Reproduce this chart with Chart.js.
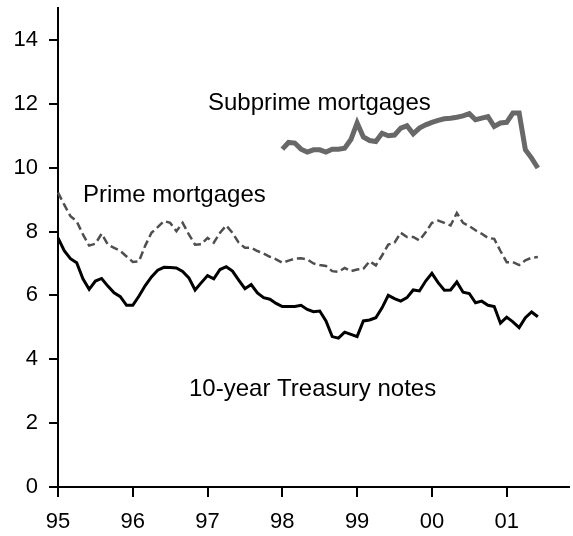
<!DOCTYPE html>
<html>
<head>
<meta charset="utf-8">
<script src="https://cdn.jsdelivr.net/npm/chart.js@4/dist/chart.umd.min.js"></script>
<style>
  body { margin: 0; background: #fff; }
  canvas { display: block; }
</style>
</head>
<body>
<canvas id="rates" width="573" height="536"></canvas>
<script>
// year tick labels, one per January
var years = ["95", "96", "97", "98", "99", "00", "01"];

// monthly, Jan 1995 .. Jun 2001 (percent)
var treasury = [
  7.80, 7.40, 7.15, 7.02, 6.52, 6.19, 6.45, 6.53, 6.29, 6.08, 5.96, 5.69,
  5.69, 5.98, 6.31, 6.58, 6.79, 6.88, 6.87, 6.86, 6.75, 6.55, 6.17, 6.40,
  6.62, 6.52, 6.81, 6.90, 6.76, 6.48, 6.21, 6.34, 6.08, 5.93, 5.88, 5.75,
  5.65, 5.65, 5.65, 5.69, 5.56, 5.49, 5.51, 5.20, 4.71, 4.66, 4.85, 4.78,
  4.71, 5.20, 5.23, 5.30, 5.61, 6.00, 5.90, 5.82, 5.93, 6.17, 6.14, 6.45,
  6.69, 6.40, 6.16, 6.17, 6.42, 6.10, 6.06, 5.77, 5.82, 5.69, 5.65, 5.13,
  5.32, 5.17, 4.99, 5.30, 5.48, 5.33
];

var prime = [
  9.22, 8.84, 8.48, 8.32, 7.91, 7.56, 7.62, 7.93, 7.59, 7.49, 7.39, 7.22,
  7.05, 7.07, 7.56, 7.96, 8.14, 8.33, 8.27, 8.01, 8.27, 7.91, 7.59, 7.60,
  7.80, 7.65, 7.96, 8.19, 7.96, 7.65, 7.49, 7.49, 7.39, 7.31, 7.21, 7.13,
  7.02, 7.09, 7.15, 7.16, 7.13, 7.00, 6.95, 6.92, 6.76, 6.74, 6.86, 6.76,
  6.81, 6.83, 7.07, 6.94, 7.25, 7.59, 7.65, 7.96, 7.83, 7.83, 7.72, 7.98,
  8.27, 8.34, 8.27, 8.19, 8.58, 8.27, 8.17, 8.04, 7.93, 7.80, 7.77, 7.39,
  7.04, 7.04, 6.95, 7.10, 7.18, 7.20
];

// monthly, Jan 1998 .. Jun 2001
var subprime = [
  10.58, 10.79, 10.77, 10.58, 10.49, 10.56, 10.56, 10.49, 10.58, 10.58, 10.61, 10.88,
  11.40, 10.96, 10.85, 10.82, 11.08, 11.00, 11.02, 11.24, 11.31, 11.06, 11.24, 11.34,
  11.42, 11.48, 11.53, 11.55, 11.58, 11.62, 11.69, 11.50, 11.55, 11.60, 11.29, 11.40,
  11.42, 11.71, 11.71, 10.56, 10.30, 9.99
];

// month labels Jan 95 .. Nov 01, year shown on January only
var months = [];
for (var y = 0; y < years.length; y++) {
  for (var m = 0; m < 12; m++) {
    if (y == years.length - 1 && m > 10) break;
    months.push(m == 0 ? years[y] : "");
  }
}

var subStart = 36; // Jan 98
var subData = [];
for (var i = 0; i < subStart; i++) subData.push(null);
subData = subData.concat(subprime);

var seriesLabels = {
  id: "seriesLabels",
  afterDatasetsDraw: function(chart) {
    var ctx = chart.ctx;
    ctx.save();
    ctx.font = '24px "Liberation Sans", Arial, sans-serif';
    ctx.fillStyle = "#000";
    ctx.textBaseline = "alphabetic";
    ctx.fillText("Subprime mortgages", 208, 110);
    ctx.fillText("Prime mortgages", 83, 202);
    ctx.fillText("10-year Treasury notes", 189, 396);
    ctx.restore();
  }
};

var tickFont = { family: '"Liberation Sans", Arial, sans-serif', size: 22 };

new Chart("rates", {
  type: "line",
  data: {
    labels: months,
    datasets: [{
      label: "Subprime mortgages",
      data: subData,
      borderColor: "#686868",
      borderWidth: 5,
      pointRadius: 0,
      tension: 0
    }, {
      label: "Prime mortgages",
      data: prime,
      borderColor: "#4f4f4f",
      borderWidth: 2.5,
      borderDash: [8, 4],
      pointRadius: 0,
      tension: 0
    }, {
      label: "10-year Treasury notes",
      data: treasury,
      borderColor: "#000",
      borderWidth: 3,
      pointRadius: 0,
      tension: 0
    }]
  },
  options: {
    responsive: false,
    animation: false,
    layout: { padding: { top: 8, right: 4, left: 0, bottom: 0 } },
    plugins: {
      legend: { display: false },
      tooltip: { enabled: false }
    },
    scales: {
      x: {
        type: "category",
        grid: { drawOnChartArea: false, color: "#000", lineWidth: 2, tickLength: 10 },
        border: { color: "#000", width: 2 },
        ticks: {
          autoSkip: false,
          maxRotation: 0,
          color: "#000",
          font: tickFont,
          padding: 12,
          callback: function(v, i) {
            var l = months[i];
            return l ? l : null;
          }
        },
        afterFit: function(s) { s.height = 49; }
      },
      y: {
        min: 0,
        max: 15,
        grid: { drawOnChartArea: false, color: "#000", lineWidth: 2, tickLength: 9 },
        border: { color: "#000", width: 2 },
        ticks: {
          stepSize: 2,
          includeBounds: false,
          color: "#000",
          font: tickFont,
          padding: 11
        },
        afterFit: function(s) {
          s.width = 58;
          s.paddingTop = 0;
          s.paddingBottom = 0;
        }
      }
    }
  },
  plugins: [seriesLabels]
});
</script>
</body>
</html>
